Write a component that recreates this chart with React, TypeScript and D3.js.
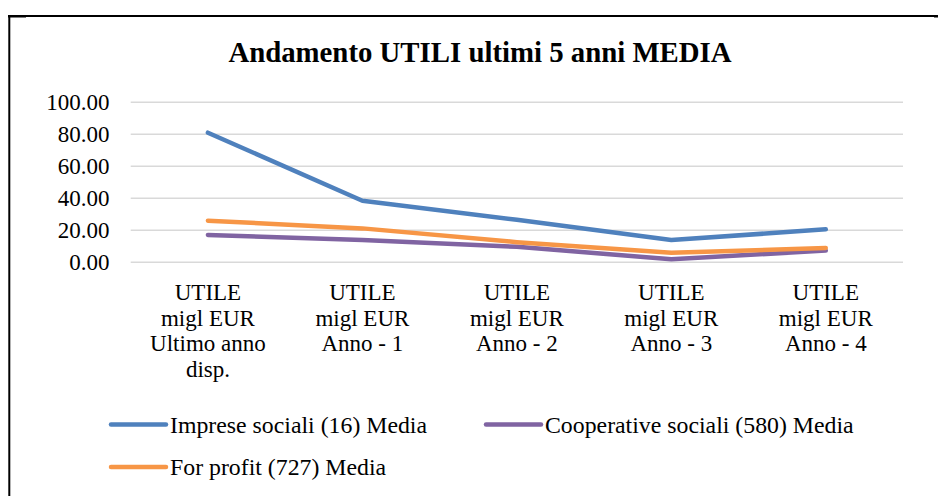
import React from "react";
import * as d3 from "d3";

const categories: string[][] = [
  ["UTILE", "migl EUR", "Ultimo anno", "disp."],
  ["UTILE", "migl EUR", "Anno - 1"],
  ["UTILE", "migl EUR", "Anno - 2"],
  ["UTILE", "migl EUR", "Anno - 3"],
  ["UTILE", "migl EUR", "Anno - 4"],
];
const impreseSociali = [81.0, 38.5, 26.6, 13.9, 20.6];
const cooperativeSociali = [17.1, 13.9, 9.7, 1.9, 7.3];
const forProfit = [26.0, 21.2, 12.6, 6.0, 8.9];
const yTicks = [0, 20, 40, 60, 80, 100];
const seriesNames = [
  "Imprese sociali (16) Media",
  "Cooperative sociali (580) Media",
  "For profit (727) Media",
];
const title = "Andamento UTILI ultimi 5 anni MEDIA";

const series = [
  { name: seriesNames[0], values: impreseSociali, color: "#4F81BD" },
  { name: seriesNames[1], values: cooperativeSociali, color: "#8064A2" },
  { name: seriesNames[2], values: forProfit, color: "#F79646" },
];

export default function App() {
  const W = 938;
  const H = 496;
  const x = d3
    .scaleBand<number>()
    .domain(categories.map((_, i) => i))
    .range([130.7, 903]);
  const y = d3.scaleLinear().domain([0, 100]).range([262.3, 102.3]);
  const cx = (i: number) => (x(i) as number) + x.bandwidth() / 2;
  const line = d3
    .line<number>()
    .x((_, i) => cx(i))
    .y((d) => y(d));

  const legendPos = [
    { lx: 111, ly: 424.5 },
    { lx: 486, ly: 424.5 },
    { lx: 111, ly: 467 },
  ];

  return (
    <svg
      width={W}
      height={H}
      style={{
        position: "absolute",
        left: 0,
        top: 0,
        display: "block",
        background: "#fff",
        fontFamily: "'Liberation Serif', 'Times New Roman', serif",
      }}
    >
      <rect x={0} y={0} width={W} height={H} fill="#fff" />
      <rect x={9.3} y={16} width={W + 20} height={H + 20} fill="none" stroke="#000" strokeWidth={2} />
      <rect x={8} y={15} width={18} height={2.5} fill="#000" />
      <rect x={934} y={15} width={4} height={2.5} fill="#000" />
      <text x={480} y={62.3} textAnchor="middle" fontWeight="bold" fontSize={28.8} fill="#000">
        {title}
      </text>
      {yTicks.map((t) => (
        <g key={t}>
          <line x1={130.7} x2={903} y1={y(t)} y2={y(t)} stroke="#d9d9d9" strokeWidth={1.5} />
          <text x={109.5} y={y(t)} dy="0.35em" textAnchor="end" fontSize={23} fill="#000">
            {d3.format(".2f")(t)}
          </text>
        </g>
      ))}
      {categories.map((lines, i) => (
        <text key={i} x={cx(i)} y={300} textAnchor="middle" fontSize={23} fill="#000">
          {lines.map((l, j) => (
            <tspan key={j} x={cx(i)} dy={j === 0 ? 0 : 25.7}>
              {l}
            </tspan>
          ))}
        </text>
      ))}
      {series.map((s) => (
        <path
          key={s.name}
          d={line(s.values) || ""}
          fill="none"
          stroke={s.color}
          strokeWidth={4.5}
          strokeLinejoin="round"
          strokeLinecap="round"
        />
      ))}
      {series.map((s, i) => (
        <g key={s.name}>
          <line
            x1={legendPos[i].lx}
            x2={legendPos[i].lx + 55}
            y1={legendPos[i].ly}
            y2={legendPos[i].ly}
            stroke={s.color}
            strokeWidth={4.5}
            strokeLinecap="round"
          />
          <text x={legendPos[i].lx + 59} y={legendPos[i].ly} dy="0.35em" fontSize={23.8} fill="#000">
            {s.name}
          </text>
        </g>
      ))}
    </svg>
  );
}
